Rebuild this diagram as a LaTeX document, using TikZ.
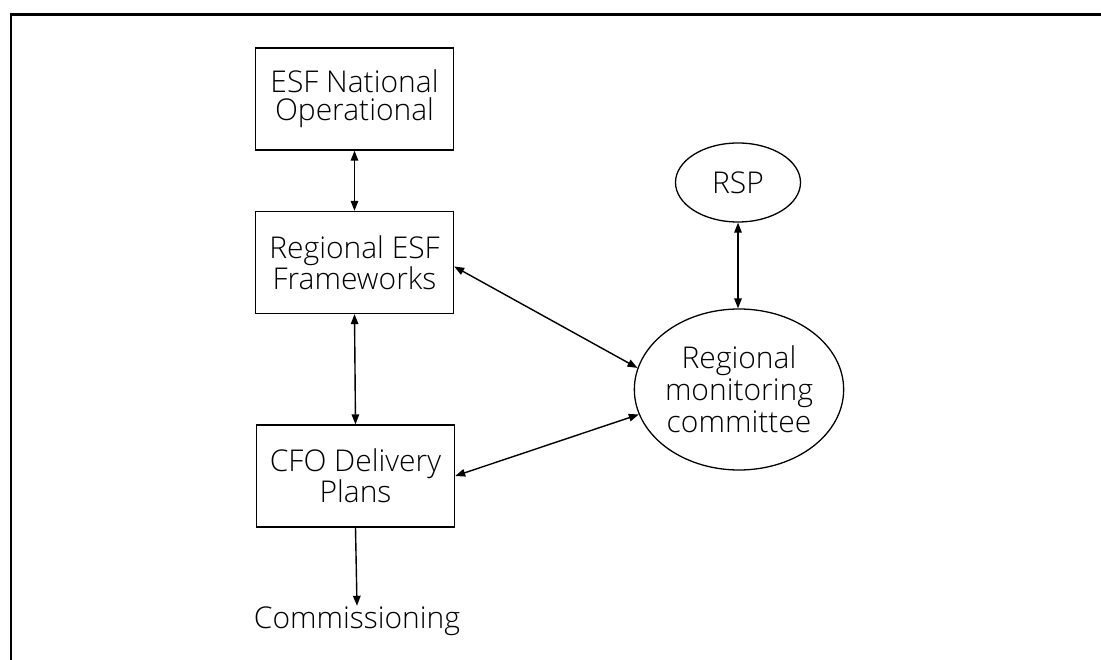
\documentclass[tikz,border=0pt]{standalone}
\usepackage{fontspec}
\setmainfont{Open Sans Light}
\usetikzlibrary{arrows.meta,shapes.geometric}
\begin{document}
\begin{tikzpicture}[x=1pt,y=-1pt,
  box/.style={draw,line width=1.3pt,minimum width=198pt,minimum height=102pt,inner sep=0pt,align=center,font=\fontsize{30}{28}\selectfont},
  oval/.style={draw,ellipse,line width=1.3pt,inner sep=0pt,align=center,font=\fontsize{30}{32}\selectfont},
  link/.style={line width=1.4pt,{Triangle[length=10pt,width=7.5pt]}-{Triangle[length=10pt,width=7.5pt]}},
  onelink/.style={line width=1.4pt,-{Triangle[length=10pt,width=7.5pt]}},
  frame/.style={line width=2.6pt}]
\useasboundingbox (0,0) rectangle (1101,660);
\draw[frame] (11,660) -- (11,14.5) -- (1101,14.5);

\node[box] (esf) at (354.5,99) {ESF National\\Operational};
\node[box] (reg) at (354.5,262.5) {Regional ESF\\Frameworks};
\node[box] (cfo) at (355.5,476) {CFO Delivery\\Plans};
\node[inner sep=0pt,anchor=base,text height=22pt,font=\fontsize{30}{28}\selectfont] (comm) at (357,628) {Commissioning};

\node[oval,minimum width=125pt,minimum height=79pt] (rsp) at (738,182.5) {RSP};
\node[oval,minimum width=202pt,minimum height=161pt] (rmc) at (739,389.5) {Regional\\monitoring\\committee};

\draw[link] (esf.south) -- (reg.north);
\draw[link] (reg.south) -- (cfo.north);
\draw[onelink] (cfo.south) -- (comm.north);
\draw[link] (rsp.south) -- (rmc.north -| rsp.south);
\draw[link] ([yshift=-4pt]reg.east) -- (rmc.168);
\draw[link] (cfo.east) -- (rmc.194);
\end{tikzpicture}
\end{document}
